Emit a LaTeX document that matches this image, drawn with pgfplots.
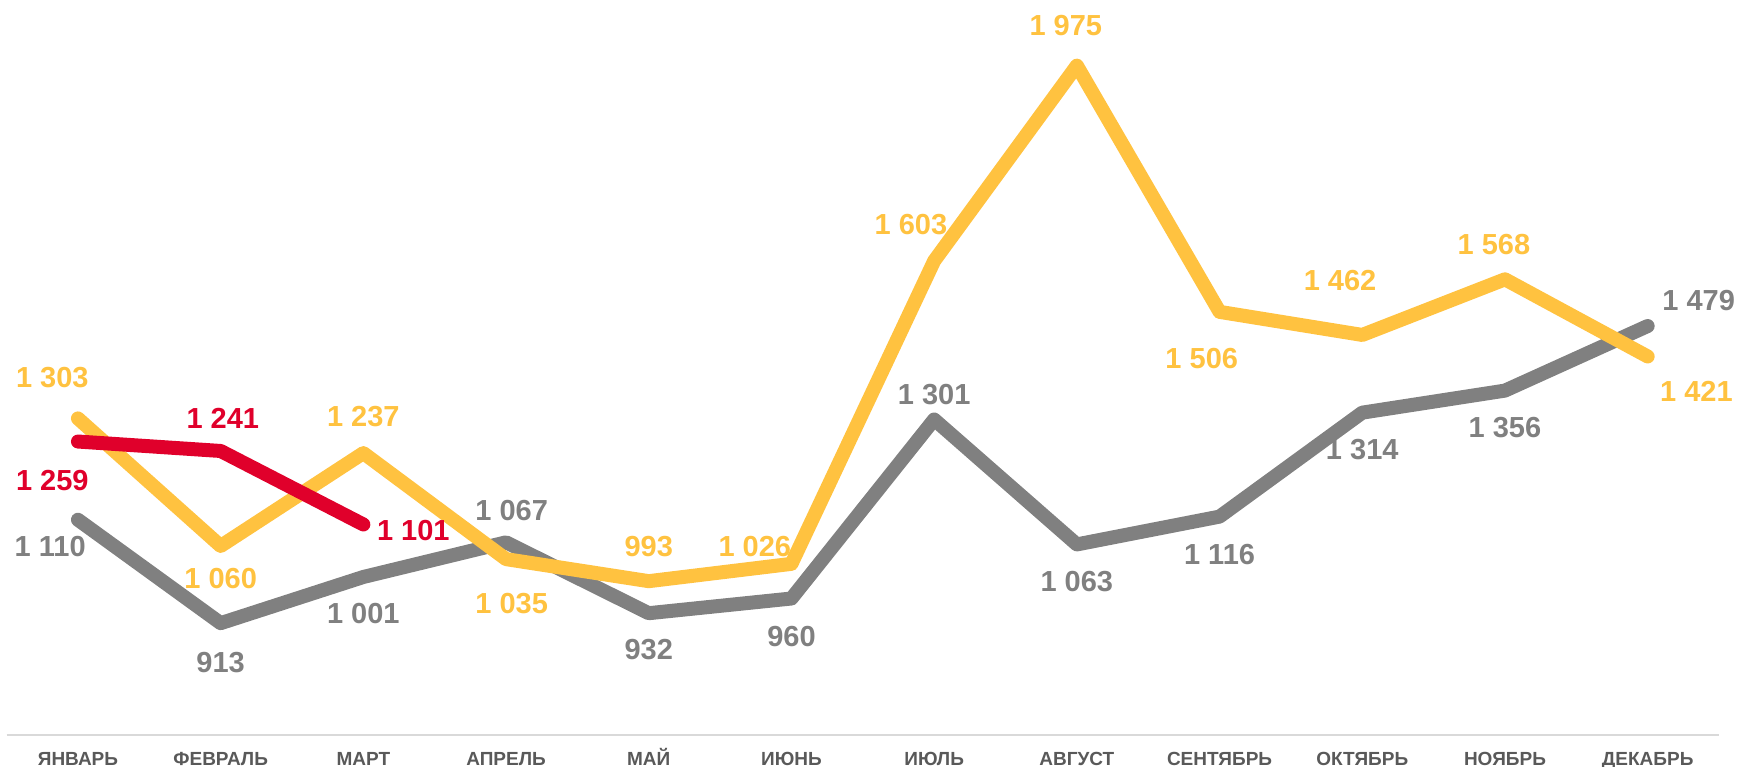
\documentclass[border=0pt]{standalone}
\usepackage{fontspec}
\setmainfont{Liberation Sans}
\usepackage{pgfplots}
\usepackage{pgfplotstable}
\pgfplotsset{compat=1.18}
\definecolor{yellowL}{RGB}{255,194,64}
\definecolor{grayL}{RGB}{128,128,128}
\definecolor{redL}{RGB}{224,0,43}
\definecolor{labgray}{RGB}{89,89,89}
\definecolor{axisgray}{RGB}{217,217,217}

\pgfplotstableread{
x y dx dy
0 1110 -13.9 -13.4
1 913 0 -19.5
2 1001 0 -18.4
3 1067 2.8 16
4 932 0 -18.4
5 960 0 -19
6 1301 0 12.6
7 1063 0 -18.4
8 1116 0 -19
9 1314 0 -18.4
10 1356 0 -18.4
11 1479 25.5 12.6
}\graydata
\pgfplotstableread{
x y dx dy
0 1303 -12.8 20.4
1 1060 0 -16.2
2 1237 0 18.2
3 1035 2.8 -22.3
4 993 0 17.1
5 1026 -18.3 8.8
6 1603 -11.6 18.2
7 1975 -5.5 19.9
8 1506 -8.9 -23.4
9 1462 -11.1 27
10 1568 -5.5 17.6
11 1421 24.4 -17.3
}\yellowdata
\pgfplotstableread{
x y dx dy
0 1259 -12.8 -19.5
1 1241 1.1 16.5
2 1101 25 -2.9
}\reddata

\pgfplotsset{
  lbl/.style={
    visualization depends on={\thisrow{dx}\as\dx},
    visualization depends on={\thisrow{dy}\as\dy},
    nodes near coords={\pgfmathprintnumber[1000 sep={\ },assume math mode=true]{\pgfplotspointmeta}},
    nodes near coords style={anchor=center, inner sep=0pt, xshift=\dx pt, yshift=\dy pt,
      font=\bfseries\fontsize{14.5}{15}\selectfont, text=#1},
  },
  ln/.style={color=#1, line width=7pt, line cap=round, line join=round, mark=none},
}

\begin{document}
\begin{tikzpicture}
\begin{axis}[
  width=856.2pt, height=367.5pt, scale only axis,
  xmin=-0.5, xmax=11.5, ymin=700, ymax=2100,
  axis x line*=bottom, axis y line=none,
  x axis line style={draw=axisgray, line width=1pt, -},
  xtick={0,...,11},
  xticklabels={ЯНВАРЬ,ФЕВРАЛЬ,МАРТ,АПРЕЛЬ,МАЙ,ИЮНЬ,ИЮЛЬ,АВГУСТ,СЕНТЯБРЬ,ОКТЯБРЬ,НОЯБРЬ,ДЕКАБРЬ},
  major tick length=0pt,
  ytick=\empty,
  clip=false,
  point meta=y,
  xticklabel style={font=\bfseries\fontsize{9.5}{10}\selectfont, text=labgray, anchor=base, yshift=-15pt, inner sep=0pt},
]
\addplot[ln=grayL, lbl=grayL] table[x=x,y=y] {\graydata};
\addplot[ln=yellowL, lbl=yellowL] table[x=x,y=y] {\yellowdata};
\addplot[ln=redL, lbl=redL] table[x=x,y=y] {\reddata};
\coordinate (bl) at (rel axis cs:0,0);
\coordinate (tr) at (rel axis cs:1,1);
\end{axis}
\pgfresetboundingbox
\path[use as bounding box] ([shift={(-3.3pt,-15.5pt)}]bl) rectangle ([shift={(10pt,0pt)}]tr);
\end{tikzpicture}
\end{document}
